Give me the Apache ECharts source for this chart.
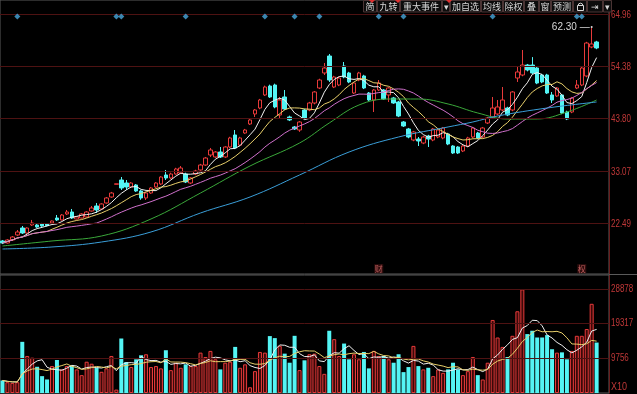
<!DOCTYPE html>
<html><head><meta charset="utf-8">
<script src="https://cdn.jsdelivr.net/npm/echarts@6/dist/echarts.min.js"></script>
<style>html,body{margin:0;padding:0;background:#000;overflow:hidden}#c{width:637px;height:394px}</style>
</head><body><div id="c"></div>
<script>
// ---------- data ----------
const opens = [
18.83,18.42,19.03,20.05,21.47,20.45,22.08,22.08,22.28,22.28,
22.49,23.50,23.10,24.32,24.72,23.30,23.50,23.71,24.92,25.94,
25.33,26.55,27.77,30.35,31.22,30.61,29.80,30.21,28.99,27.57,
28.58,29.80,30.41,32.24,31.63,32.44,32.65,32.44,30.61,32.44,
33.26,34.27,36.30,35.90,36.91,35.90,37.93,40.37,38.30,40.77,
42.60,44.64,45.85,48.50,50.32,50.53,44.43,48.09,44.03,41.99,
41.38,45.45,45.45,46.87,49.92,52.97,56.42,50.12,50.53,54.39,
52.97,48.90,51.54,52.36,48.90,47.48,49.51,49.51,48.50,47.89,
47.07,43.01,41.59,39.35,39.55,38.74,40.16,39.35,39.96,39.76,
40.57,38.13,37.93,37.12,38.13,39.96,40.77,39.96,42.81,44.03,
44.64,45.45,45.85,45.45,51.95,52.56,54.59,54.59,53.98,52.56,
52.56,48.50,48.30,48.50,45.04,45.04,49.92,50.53,52.36,58.25,
59.27];
const closes = [
18.42,19.03,19.64,20.66,20.45,21.47,22.49,21.67,21.88,21.95,
22.89,23.10,24.11,24.72,23.50,23.71,24.32,24.72,25.53,25.13,
26.35,27.57,28.58,30.45,29.60,29.80,30.61,28.99,27.57,28.58,
29.60,30.61,31.83,31.63,32.44,33.46,33.66,30.82,31.63,33.05,
34.27,35.69,37.32,36.91,35.90,37.93,39.76,37.73,39.76,41.38,
43.42,45.45,47.48,50.12,48.09,46.06,47.48,45.65,43.42,41.59,
43.01,43.82,46.87,49.11,51.54,53.98,51.54,52.15,51.95,52.15,
51.14,50.93,52.97,49.92,47.48,49.51,50.93,47.68,49.92,46.87,
44.23,42.20,39.96,40.98,39.15,39.96,39.55,41.59,41.38,41.79,
38.54,36.71,36.71,38.13,39.76,41.79,39.76,41.79,43.82,45.85,
46.06,47.48,44.43,49.11,53.17,54.59,53.58,52.97,50.93,51.14,
48.90,47.48,49.92,44.84,43.62,47.89,50.53,53.98,59.06,58.86,
58.05];
const lows = [
18.20,18.30,18.90,19.84,20.25,20.30,21.88,21.50,21.70,21.80,
22.30,22.90,23.00,24.11,23.30,23.20,23.40,23.60,24.80,24.52,
25.20,26.40,27.60,30.35,29.19,29.19,29.60,28.80,27.20,27.16,
28.40,29.60,30.20,31.22,31.40,32.30,32.50,30.60,30.40,32.20,
33.10,34.10,35.90,35.70,35.69,35.70,37.70,37.50,38.10,40.60,
42.40,44.03,45.60,48.30,47.90,45.80,43.82,45.40,43.20,41.38,
41.00,43.60,45.20,46.60,49.70,52.56,51.14,49.90,50.30,51.90,
50.90,48.70,51.30,49.70,47.30,45.04,49.30,47.50,47.07,46.70,
44.00,42.00,39.70,39.10,38.13,38.50,37.93,39.10,39.70,39.50,
38.30,36.50,36.50,36.90,37.90,39.70,39.50,39.70,42.60,43.80,
44.40,45.20,44.20,45.20,51.14,52.30,53.30,52.70,50.70,50.90,
48.70,46.87,48.10,44.60,43.40,44.80,49.70,50.30,52.10,58.00,
57.80];
const highs = [
19.03,19.20,19.84,21.06,21.88,21.60,23.10,22.30,22.50,22.45,
23.00,24.11,24.30,25.13,25.33,23.90,24.50,24.90,25.94,26.55,
26.50,27.77,28.80,30.45,31.83,31.22,30.80,30.40,29.20,28.80,
29.80,30.80,32.00,33.26,32.70,33.70,34.07,32.70,31.80,33.30,
34.50,35.90,37.73,37.10,37.93,38.10,40.00,41.38,40.00,41.60,
43.60,45.65,47.70,50.40,50.60,50.80,48.09,49.51,44.30,42.20,
43.20,45.70,47.10,49.30,51.80,55.00,56.83,52.40,52.20,55.20,
53.20,51.10,53.20,52.60,49.10,49.70,51.54,49.70,50.10,48.10,
47.30,43.20,41.80,41.20,39.96,40.20,40.40,41.80,41.60,42.00,
40.80,38.30,38.10,38.30,40.00,42.00,41.00,42.00,44.00,48.09,
47.48,50.12,46.10,49.30,54.18,57.64,54.80,56.20,54.20,52.80,
52.80,49.11,50.10,48.70,45.30,48.10,51.54,54.20,59.30,62.30,
59.50];
const volumes = [
3490,3010,2810,3010,14260,10320,9840,7310,4700,3770,
7510,9200,6580,7510,7700,6580,4980,8720,8160,7030,
5910,6860,10320,950,15190,8630,7230,9390,10510,10800,
7230,7510,6860,11920,6380,8440,7030,7990,7510,7510,
11250,10040,11730,9390,6580,8440,8720,12850,7030,7990,
1600,6100,11440,11250,15860,15300,13130,10970,8440,15940,
6380,9110,10800,10970,7510,5340,17350,15010,10320,13780,
9390,10800,9390,11440,6860,11730,10320,10320,9390,8440,
10800,5820,7230,13130,7500,6580,7030,4700,6580,5620,
6580,8440,6580,4980,6100,10040,4980,3770,8440,20360,
15470,12850,10040,15940,22780,28880,16420,17350,15470,15470,
16140,12200,11250,11330,9390,11730,15940,15940,17830,24860,
14060];
// long moving averages, read at sample points [candle index, price]
const maGreenPoints = [[0,17.81],[10,18.83],[20,19.84],[30,23.30],[40,28.58],[50,34.07],[60,38.74],[66,42.81],[72,46.46],[78,47.68],[84,47.68],[90,46.67],[96,44.84],[102,43.62],[108,43.62],[114,45.04],[120,47.48]];
const maBluePoints = [[0,17.20],[10,17.61],[20,18.62],[30,20.66],[40,24.52],[50,27.77],[60,32.24],[70,36.91],[80,39.96],[90,42.00],[95,43.01],[100,44.23],[110,45.85],[120,47.07]];
const priceTicks = [22.49, 33.07, 43.80, 54.38, 64.96];
const volTicks = [9756, 19317, 28878];
const volUnitLabel = 'X10';
const eventDiamondIdx = [3,23,24,37,53,59,64,76,81,99,116,117];
const bottomEventIdx = [76, 117];
const bottomEventText = ['财', '权'];
const highLabel = {idx: 119, value: 62.30};
const toolbarLabels = ['简','九转','重大事件','▾','加自选','均线','除权','叠','窗','预测','','⇥','▾'];

// ---------- build ----------
const SLOTS = 123;
const categories = Array.from({length: SLOTS}, (_, i) => String(i));
const RED = '#e83a3a', CYAN = '#54f4f4', LABEL_RED = '#c03838';
const candleData = opens.map((o, i) => [o, closes[i], lows[i], highs[i]]);
const up = i => closes[i] > opens[i] || (closes[i] === opens[i] && i > 0 && closes[i] >= closes[i-1]);
const volData = volumes.map((v, i) => ({
  value: v,
  itemStyle: up(i) ? {color: '#3a0909', borderColor: RED, borderWidth: 1}
                   : {color: CYAN, borderColor: CYAN, borderWidth: 0}
}));
function ma(arr, n) {
  return arr.map((_, i) => {
    const s = Math.max(0, i - n + 1); let sum = 0;
    for (let j = s; j <= i; j++) sum += arr[j];
    return +(sum / (i - s + 1)).toFixed(3);
  });
}
const DIAMOND_LEVEL = 64.45, BOTTOM_LEVEL = 13.2;
const lineS = (name, data, color, xi, yi) => ({
  name, type: 'line', data, xAxisIndex: xi, yAxisIndex: yi, symbol: 'none',
  smooth: false, lineStyle: {width: 1, color}, z: 4, silent: true, connectNulls: true
});
const tickLine = vals => ({
  silent: true, symbol: ['none', 'none'], animation: false,
  lineStyle: {color: '#4e1212', width: 1, type: 'solid'},
  label: {show: false},
  data: vals.map(v => ({yAxis: v}))
});

// toolbar graphic (layout only)
const tbBoxes = [[363,377],[377,400],[400,442],[442,450],[450,481],[481,503],[503,524],[524,539],[539,551],[551,573],[573,587],[587,603],[603,612]];
const graphic = [];
tbBoxes.forEach((b, i) => {
  graphic.push({type: 'rect', shape: {x: b[0] + 0.5, y: 0.5, width: b[1] - b[0] - 1, height: 11.5}, style: {fill: '#0c0c0c', stroke: '#4a3434', lineWidth: 1}, z: 100});
  if (toolbarLabels[i]) graphic.push({type: 'text', x: (b[0] + b[1]) / 2, y: 6.5, style: {text: toolbarLabels[i], fill: '#d8d8d8', font: '9px "Noto Sans CJK SC"', align: 'center', verticalAlign: 'middle'}, z: 101});
});
graphic.push({type: 'rect', shape: {x: 577.5, y: 5.5, width: 6, height: 5}, style: {fill: 'none', stroke: '#d8d8d8', lineWidth: 1}, z: 101});
graphic.push({type: 'arc', shape: {cx: 580.5, cy: 5.5, r: 2.3, startAngle: Math.PI, endAngle: 2 * Math.PI}, style: {fill: 'none', stroke: '#d8d8d8', lineWidth: 1}, z: 101});
[[372,0],[398,0],[449,0]].forEach(p => graphic.push({type: 'polygon', shape: {points: [[p[0]-3, p[1]], [p[0]+3, p[1]], [p[0], p[1]+3]]}, style: {fill: '#e03030'}, z: 102}));
graphic.push({type: 'line', shape: {x1: 609, y1: 274.5, x2: 637, y2: 274.5}, style: {stroke: '#5a5a5a', lineWidth: 1}, z: 50});

const option = {
  backgroundColor: '#000',
  animation: false,
  graphic,
  grid: [
    {left: 0, right: 28, top: 0, height: 274, show: true, borderColor: '#5a5a5a', borderWidth: 1, backgroundColor: 'transparent'},
    {left: 0, right: 28, top: 275, bottom: 1, show: true, borderColor: '#5a5a5a', borderWidth: 1, backgroundColor: 'transparent'}
  ],
  xAxis: [0, 1].map(g => ({
    type: 'category', gridIndex: g, data: categories, boundaryGap: true,
    axisLine: {show: false}, axisTick: {show: false}, axisLabel: {show: false}, splitLine: {show: false}
  })),
  yAxis: [
    {type: 'value', gridIndex: 0, position: 'right', min: 12.12, max: 67.80,
     axisLine: {show: true, lineStyle: {color: '#6a1c1c'}}, axisTick: {show: false}, axisLabel: {show: false}, splitLine: {show: false}},
    {type: 'value', gridIndex: 1, position: 'right', min: 0, max: 32890,
     axisLine: {show: true, lineStyle: {color: '#6a1c1c'}}, axisTick: {show: false}, axisLabel: {show: false}, splitLine: {show: false}}
  ],
  series: [
    {name: 'K', type: 'candlestick', xAxisIndex: 0, yAxisIndex: 0, data: candleData, barWidth: 4, z: 3,
     itemStyle: {color: '#000', color0: CYAN, borderColor: RED, borderColor0: CYAN, borderWidth: 1},
     markLine: tickLine(priceTicks),
     markPoint: {symbol: 'circle', symbolSize: 2, itemStyle: {color: '#d8d8d8'}, silent: true,
       label: {show: true, position: 'left', distance: 1, color: '#d8d8d8', fontSize: 10, fontFamily: '"Liberation Sans",sans-serif', formatter: () => highLabel.value.toFixed(2) + ' —'},
       data: [{coord: [highLabel.idx, highLabel.value], value: highLabel.value}]}
    },
    lineS('MA5', ma(closes, 5), '#f2f2f2', 0, 0),
    lineS('MA10', ma(closes, 10), '#e8cf6a', 0, 0),
    lineS('MA20', ma(closes, 20), '#d070cc', 0, 0),
    Object.assign(lineS('MA60', maGreenPoints, '#3aa83a', 0, 0), {smooth: 0.4}),
    Object.assign(lineS('MA120', maBluePoints, '#3a9ed8', 0, 0), {smooth: 0.4}),
    {name: 'events', type: 'scatter', xAxisIndex: 0, yAxisIndex: 0, symbol: 'diamond', symbolSize: 6, z: 60,
     itemStyle: {color: '#48a8dc'}, silent: true, data: eventDiamondIdx.map(i => [i, DIAMOND_LEVEL])},
    {name: 'notes', type: 'scatter', xAxisIndex: 0, yAxisIndex: 0, symbol: 'rect', symbolSize: [9, 9], z: 60,
     itemStyle: {color: '#3a1010'}, silent: true,
     label: {show: true, position: 'inside', color: '#e07070', fontSize: 8, fontFamily: '"Noto Sans CJK SC"', formatter: p => bottomEventText[p.dataIndex]},
     data: bottomEventIdx.map(i => [i, BOTTOM_LEVEL])},
    {name: 'VOL', type: 'bar', xAxisIndex: 1, yAxisIndex: 1, data: volData, barWidth: 4, z: 3,
     markLine: tickLine(volTicks)},
    lineS('VMA5', ma(volumes, 5), '#f0f0f0', 1, 1),
    lineS('VMA10', ma(volumes, 10), '#e8cf6a', 1, 1)
  ]
};
const chart = echarts.init(document.getElementById('c'), null, {renderer: 'canvas', width: 637, height: 394});
chart.setOption(option);

// right-hand tick labels, placed through the library's own scales
const labelStyle = t => ({text: t, fill: LABEL_RED, font: '10px "Liberation Sans", sans-serif', verticalAlign: 'middle'});
const tickLabels = [];
priceTicks.forEach(v => tickLabels.push({type: 'text', x: 611, y: chart.convertToPixel({yAxisIndex: 0}, v) + 1, scaleX: 0.8, style: labelStyle(v.toFixed(2)), z: 50}));
volTicks.forEach(v => tickLabels.push({type: 'text', x: 611, y: chart.convertToPixel({yAxisIndex: 1}, v), scaleX: 0.8, style: labelStyle(String(v)), z: 50}));
tickLabels.push({type: 'text', x: 611, y: chart.convertToPixel({yAxisIndex: 1}, 0) - 6, scaleX: 0.9, style: labelStyle(volUnitLabel), z: 50});
chart.setOption({graphic: graphic.concat(tickLabels)});
</script>
</body></html>
